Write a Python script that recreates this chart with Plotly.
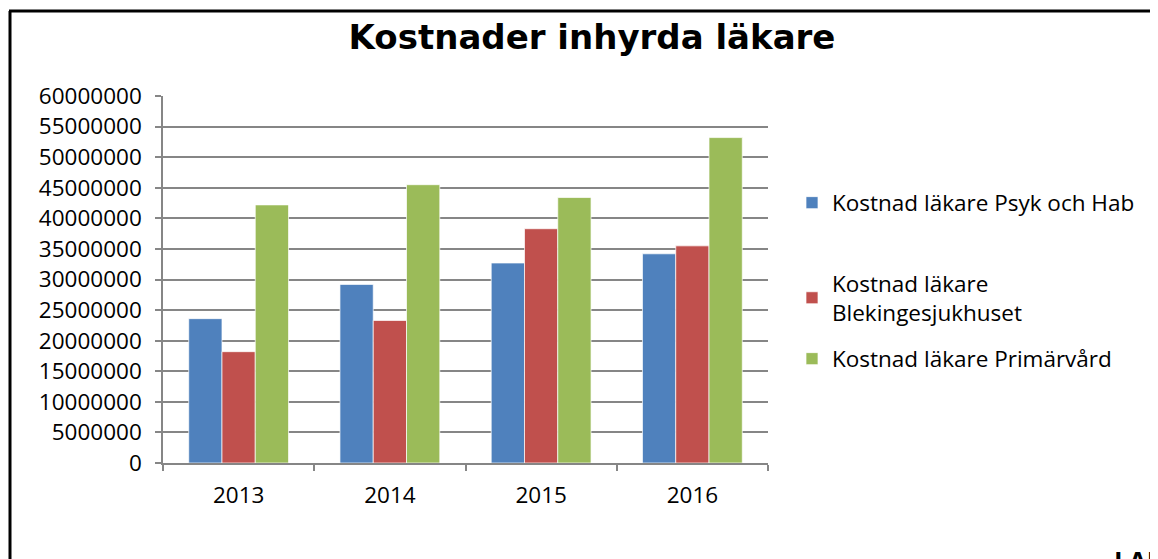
import plotly.graph_objects as go

years = ["2013", "2014", "2015", "2016"]
psyk_hab = [23600000, 29200000, 32700000, 34200000]
blekingesjukhuset = [18200000, 23300000, 38300000, 35500000]
primarvard = [42200000, 45500000, 43400000, 53200000]
y_ticks = list(range(0, 60000001, 5000000))

names = ["Kostnad läkare Psyk och Hab",
         "Kostnad läkare<br>Blekingesjukhuset",
         "Kostnad läkare Primärvård"]
colors = ["#4F81BD", "#C0504D", "#9BBB59"]
series = [psyk_hab, blekingesjukhuset, primarvard]
legends = ["legend", "legend2", "legend3"]

FONT = "Open Sans"
OFF = 8  # page body margin compensation
W, H = 1158, 559
L, T, PW, PH = 163 - OFF, 96 - OFF, 605, 367

def cy(y):  # reference pixel y -> container fraction
    return 1 - (y - OFF) / H

def cx(x):
    return (x - OFF) / W

fig = go.Figure()
for name, vals, col, lg in zip(names, series, colors, legends):
    fig.add_trace(go.Bar(
        x=years, y=vals, name=name, legend=lg, showlegend=True,
        marker=dict(color=col, line=dict(color="rgba(255,255,255,0.7)", width=1)),
    ))

leg_common = dict(font=dict(family=FONT, size=22.5, color="#000000"),
                  xref="container", yref="container", xanchor="left", yanchor="middle",
                  bgcolor="rgba(0,0,0,0)", itemwidth=30)
fig.update_layout(
    width=W, height=H, showlegend=True,
    paper_bgcolor="white", plot_bgcolor="white",
    margin=dict(l=L, r=W - L - PW, t=T, b=H - T - PH),
    barmode="group", bargap=0.34, bargroupgap=0,
    title=dict(text="<b>Kostnader inhyrda läkare</b>", x=cx(592), xanchor="center",
               y=cy(37), yanchor="middle",
               font=dict(family="DejaVu Sans", size=34, color="#000000")),
    legend=dict(x=cx(792), y=cy(203), **leg_common),
    legend2=dict(x=cx(792), y=cy(298), **leg_common),
    legend3=dict(x=cx(792), y=cy(359), **leg_common),
    xaxis=dict(type="category", showline=True, linecolor="#868686", linewidth=1.5,
               ticks="outside", tickson="boundaries", ticklen=6, tickcolor="#868686",
               tickwidth=1.5, showgrid=False, ticklabelstandoff=11,
               tickfont=dict(family=FONT, size=22.5, color="#000000")),
    yaxis=dict(range=[0, 60000000], tickvals=y_ticks, ticktext=[str(v) for v in y_ticks],
               showline=True, linecolor="#868686", linewidth=1.5,
               ticks="outside", ticklen=6, tickcolor="#868686", tickwidth=1.5,
               showgrid=True, gridcolor="#868686", gridwidth=1.5, zeroline=False,
               ticklabelstandoff=9,
               tickfont=dict(family=FONT, size=22.5, color="#000000")),
    shapes=[
        dict(type="line", xref="paper", yref="paper", x0=-(163 - 9) / PW, x1=(W + 20 - 163) / PW,
             y0=1 + (96 - 11) / PH, y1=1 + (96 - 11) / PH, line=dict(color="#000000", width=3)),
        dict(type="line", xref="paper", yref="paper", x0=-(163 - 10) / PW, x1=-(163 - 10) / PW,
             y0=1 + (96 - 11) / PH, y1=-(130) / PH, line=dict(color="#000000", width=3)),
    ],
    annotations=[
        dict(text="<b>LAI</b>", xref="paper", yref="paper", x=(1112 - 163) / PW,
             y=-(98) / PH,
             xanchor="left", yanchor="middle", showarrow=False,
             font=dict(family=FONT, size=26, color="#000000")),
    ],
)

fig.write_html("out.html")
